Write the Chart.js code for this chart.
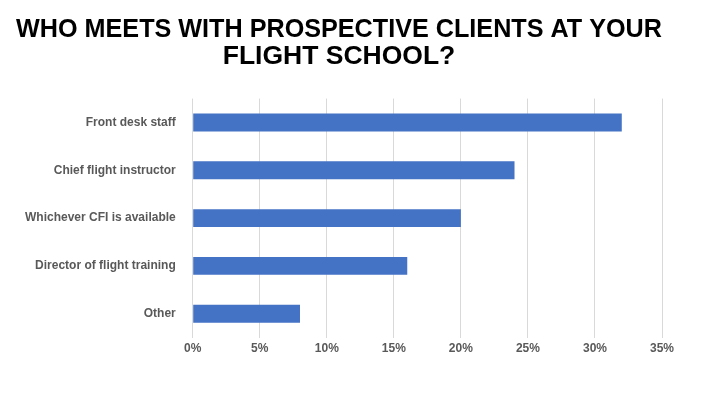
<!DOCTYPE html>
<html>
<head>
<meta charset="utf-8">
<script src="https://cdn.jsdelivr.net/npm/chart.js@4"></script>
<style>
  html, body { margin: 0; padding: 0; background: #fff; }
  #wrap { width: 720px; height: 405px; }
</style>
</head>
<body>
<div id="wrap"><canvas id="chart"></canvas></div>
<script>
const categories = ['Front desk staff', 'Chief flight instructor', 'Whichever CFI is available', 'Director of flight training', 'Other'];
const shares = [32, 24, 20, 16, 8];
const titleLines = ['WHO MEETS WITH PROSPECTIVE CLIENTS AT YOUR', 'FLIGHT SCHOOL?'];

new Chart(document.getElementById('chart'), {
    type: 'bar',
    data: {
        labels: categories,
        datasets: [{
            data: shares,
            backgroundColor: '#4472c4',
            barPercentage: 0.75,
            categoryPercentage: 0.5
        }]
    },
    options: {
        indexAxis: 'y',
        responsive: true,
        maintainAspectRatio: false,
        animation: false,
        layout: { padding: { left: 16, right: 58, top: 12, bottom: 45 } },
        plugins: {
            legend: { display: false },
            tooltip: { enabled: false },
            title: {
                display: true,
                text: titleLines,
                color: '#000',
                font: { family: 'Liberation Sans', size: 26.5, weight: 'bold', lineHeight: 1.03 },
                padding: { top: 4, bottom: 28 }
            }
        },
        scales: {
            x: {
                min: 0,
                max: 35,
                ticks: {
                    stepSize: 5,
                    callback: v => v + '%',
                    color: '#595959',
                    padding: 4,
                    font: { family: 'Liberation Sans', size: 12, weight: 'bold' }
                },
                grid: { color: '#d9d9d9', drawTicks: false },
                border: { display: false }
            },
            y: {
                ticks: {
                    color: '#595959',
                    padding: 9,
                    font: { family: 'Liberation Sans', size: 12, weight: 'bold' }
                },
                grid: { display: false },
                border: { display: false }
            }
        }
    }
});
</script>
</body>
</html>
